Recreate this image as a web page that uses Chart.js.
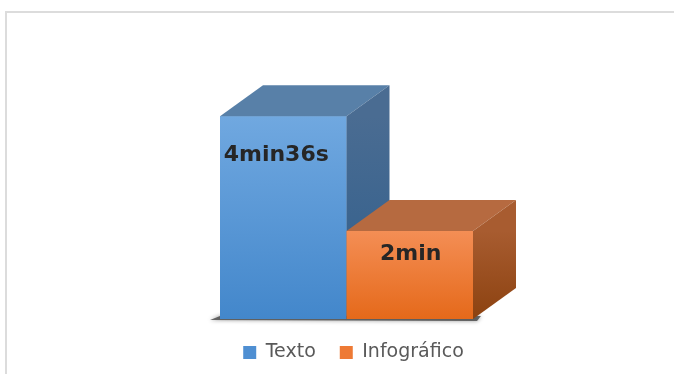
<!DOCTYPE html>
<html>
<head>
<meta charset="utf-8">
<script src="https://cdn.jsdelivr.net/npm/chart.js@4"></script>
<style>
    html, body { margin: 0; padding: 0; background: #fff; }
    #wrap { position: relative; width: 674px; height: 374px; overflow: hidden; }
    #frame {
        position: absolute; left: 5px; top: 11px; right: -2px; bottom: -2px;
        border-top: 2px solid #dcdcdc; border-left: 2px solid #dcdcdc;
    }
    canvas { position: absolute; left: 0; top: 0; }
</style>
</head>
<body>
<div id="wrap">
    <div id="frame"></div>
    <canvas id="tempoChart" width="674" height="374"></canvas>
</div>
<script>
// reading time, in seconds
const seriesNames = ["Texto", "Infográfico"];
const seriesSeconds = [276, 120];
const valueLabels = ["4min36s", "2min"];

const frontTop = ["#70a8e0", "#f48e55"];
const frontBottom = ["#4387cb", "#e5691a"];
const legendColors = ["#4f8fd2", "#ee7a35"];
const topFace = ["#5880a8", "#b66a40"];
const sideTop = ["#4a6c92", "#a85c30"];
const sideBottom = ["#2f5e8c", "#8c4210"];

const DEPTH_X = 43;
const DEPTH_Y = -31;
const FONT = "'DejaVu Sans', sans-serif";

function frontGradient(context) {
    const chart = context.chart;
    const i = context.datasetIndex;
    if (!chart.chartArea || !chart.scales.y) return frontTop[i];
    const y = chart.scales.y;
    const g = chart.ctx.createLinearGradient(0, y.getPixelForValue(seriesSeconds[i]), 0, y.getPixelForValue(0));
    g.addColorStop(0, frontTop[i]);
    g.addColorStop(1, frontBottom[i]);
    return g;
}

// floor shadow, then each box redrawn left to right with its top, side and label
const boxes3d = {
    id: "boxes3d",
    afterDatasetsDraw(chart) {
        const ctx = chart.ctx;
        const bars = chart.data.datasets.map((ds, i) => chart.getDatasetMeta(i).data[0]);
        const x0 = bars[0].x - bars[0].width / 2;
        const x1 = bars[bars.length - 1].x + bars[bars.length - 1].width / 2;
        const y0 = chart.scales.y.getPixelForValue(0);

        ctx.save();
        ctx.fillStyle = "rgba(70,70,70,0.8)";
        ctx.shadowColor = "rgba(0,0,0,0.5)";
        ctx.shadowBlur = 4;
        ctx.beginPath();
        ctx.moveTo(x0 - 10, y0 + 1);
        ctx.lineTo(x0, y0 - 3);
        ctx.lineTo(x1 + 8, y0 - 3);
        ctx.lineTo(x1 + 4, y0 + 2);
        ctx.closePath();
        ctx.fill();
        ctx.restore();

        bars.forEach((bar, i) => {
            const left = bar.x - bar.width / 2;
            const right = bar.x + bar.width / 2;
            const top = bar.y;
            const bottom = bar.base;

            bar.draw(ctx, chart.chartArea);

            ctx.save();
            ctx.fillStyle = topFace[i];
            ctx.beginPath();
            ctx.moveTo(left, top);
            ctx.lineTo(left + DEPTH_X, top + DEPTH_Y);
            ctx.lineTo(right + DEPTH_X, top + DEPTH_Y);
            ctx.lineTo(right, top);
            ctx.closePath();
            ctx.fill();

            const g = ctx.createLinearGradient(0, top, 0, bottom);
            g.addColorStop(0, sideTop[i]);
            g.addColorStop(1, sideBottom[i]);
            ctx.fillStyle = g;
            ctx.beginPath();
            ctx.moveTo(right, top);
            ctx.lineTo(right + DEPTH_X, top + DEPTH_Y);
            ctx.lineTo(right + DEPTH_X, bottom + DEPTH_Y);
            ctx.lineTo(right, bottom);
            ctx.closePath();
            ctx.fill();

            ctx.fillStyle = "#262626";
            ctx.font = "bold 22px " + FONT;
            ctx.textAlign = "center";
            ctx.textBaseline = "alphabetic";
            const dx = i === 0 ? -7 : 1;
            const dy = i === 0 ? 45 : 29;
            ctx.fillText(valueLabels[i], bar.x + dx, top + dy);
            ctx.restore();
        });
    }
};

new Chart(document.getElementById("tempoChart"), {
    type: "bar",
    data: {
        labels: [""],
        datasets: [
            { label: seriesNames[0], data: [seriesSeconds[0]], backgroundColor: frontGradient },
            { label: seriesNames[1], data: [seriesSeconds[1]], backgroundColor: frontGradient }
        ]
    },
    options: {
        responsive: false,
        animation: false,
        layout: {
            padding: { left: 46, right: 13, top: 40, bottom: 2 }
        },
        datasets: {
            bar: {
                barPercentage: 1,
                categoryPercentage: 253 / 601,
                borderWidth: 0
            }
        },
        scales: {
            x: { display: false },
            y: {
                display: true,
                position: "right",
                grid: { display: false },
                border: { display: false },
                ticks: { display: false },
                afterFit: function (scale) { scale.width = 14; },
                min: 0,
                max: 380
            }
        },
        plugins: {
            legend: {
                position: "bottom",
                labels: {
                    boxWidth: 13,
                    boxHeight: 13,
                    padding: 24,
                    color: "#595959",
                    font: { size: 19, family: FONT },
                    generateLabels: function (chart) {
                        return chart.data.datasets.map((ds, i) => ({
                            text: ds.label,
                            fillStyle: legendColors[i],
                            strokeStyle: legendColors[i],
                            lineWidth: 0,
                            fontColor: "#595959",
                            datasetIndex: i
                        }));
                    }
                }
            },
            tooltip: { enabled: false }
        }
    },
    plugins: [boxes3d]
});
</script>
</body>
</html>
